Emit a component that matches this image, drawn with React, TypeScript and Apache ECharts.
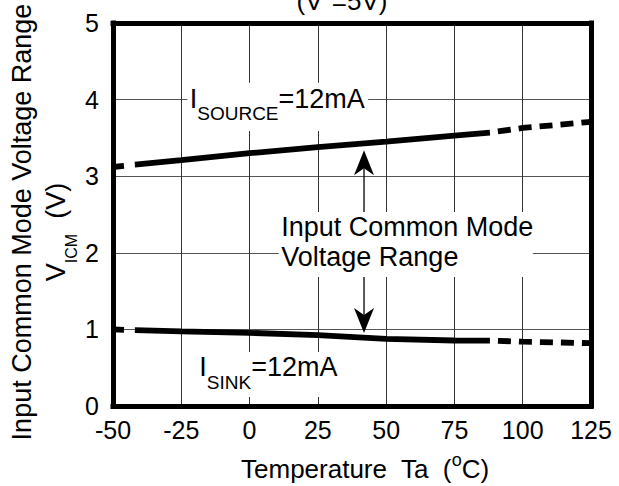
import React, { useEffect, useRef } from "react";
import * as echarts from "echarts";

// ---- data ----
const xTicks = [-50, -25, 0, 25, 50, 75, 100, 125];
const yTicks = [0, 1, 2, 3, 4, 5];

const sourceLeadT = [-50, -42];
const sourceLeadV = [3.12, 3.15];
const sourceT = [-42, -25, 0, 25, 50, 75, 88];
const sourceV = [3.15, 3.21, 3.3, 3.38, 3.45, 3.53, 3.57];
const sourceExtT = [88, 100, 125];
const sourceExtV = [3.57, 3.63, 3.71];

const sinkLeadT = [-50, -42];
const sinkLeadV = [1.0, 0.99];
const sinkT = [-42, -25, 0, 25, 50, 75, 88];
const sinkV = [0.99, 0.975, 0.955, 0.925, 0.875, 0.855, 0.853];
const sinkExtT = [88, 100, 125];
const sinkExtV = [0.853, 0.84, 0.82];

// ---- annotation anchors (data units) ----
const sourceBox = { t0: -22.8, t1: 43.4, v0: 3.59, v1: 4.22 };
const sourceLabelAt = [-21.9, 4.189];
const icmBox = { t0: 10.7, t1: 103.7, v0: 1.684, v1: 2.533 };
const icmLabelAt = [11.6, 2.533];
const sinkBox = { t0: -19.9, t1: 33.5, v0: 0.117, v1: 0.705 };
const sinkLabelAt = [-18.4, 0.681];
const arrowT = 41.9;
const upArrow = { from: 2.533, tip: 3.34 };
const downArrow = { from: 1.684, tip: 0.953 };

const FONT = '"Liberation Sans", Arial, Helvetica, sans-serif';

const pairs = (t: number[], v: number[]) => t.map((x, i) => [x, v[i]]);

export default function App() {
  const ref = useRef<HTMLDivElement>(null);
  useEffect(() => {
    if (!ref.current) return;
    const chart = echarts.init(ref.current, undefined, { renderer: "svg" });
    const axisLine = { show: true, onZero: false, lineStyle: { color: "#000", width: 5, cap: "square" } };
    const lineBase = { type: "line", showSymbol: false, symbol: "none", silent: true, z: 5 };
    const solid = { color: "#000", width: 5.8 };
    const option: any = {
      animation: false,
      backgroundColor: "#fff",
      grid: { left: 113, right: 28, top: 23, bottom: 80 },
      xAxis: [
        {
          type: "value", min: xTicks[0], max: xTicks[xTicks.length - 1], interval: 25, position: "bottom",
          axisLine, axisTick: { show: false },
          axisLabel: { fontSize: 25, color: "#000", margin: 11, fontFamily: FONT },
          splitLine: { show: true, lineStyle: { color: "#333", width: 1 } },
        },
        {
          type: "value", min: xTicks[0], max: xTicks[xTicks.length - 1], interval: 25, position: "top",
          axisLine, axisTick: { show: false }, axisLabel: { show: false }, splitLine: { show: false },
        },
      ],
      yAxis: [
        {
          type: "value", min: yTicks[0], max: yTicks[yTicks.length - 1], interval: 1, position: "left",
          axisLine, axisTick: { show: false },
          axisLabel: { fontSize: 25, color: "#000", margin: 14, fontFamily: FONT },
          splitLine: { show: true, lineStyle: { color: "#555", width: 1 } },
        },
        {
          type: "value", min: yTicks[0], max: yTicks[yTicks.length - 1], interval: 1, position: "right",
          axisLine, axisTick: { show: false }, axisLabel: { show: false }, splitLine: { show: false },
        },
      ],
      series: [
        { ...lineBase, name: "source lead", data: pairs(sourceLeadT, sourceLeadV), lineStyle: { ...solid, type: [11, 12] } },
        { ...lineBase, name: "source", data: pairs(sourceT, sourceV), lineStyle: solid },
        { ...lineBase, name: "source ext", data: pairs(sourceExtT, sourceExtV), lineStyle: { ...solid, type: [13, 8], dashOffset: 13 } },
        { ...lineBase, name: "sink lead", data: pairs(sinkLeadT, sinkLeadV), lineStyle: { ...solid, type: [11, 12] } },
        { ...lineBase, name: "sink", data: pairs(sinkT, sinkV), lineStyle: solid },
        { ...lineBase, name: "sink ext", data: pairs(sinkExtT, sinkExtV), lineStyle: { ...solid, type: [13, 8], dashOffset: 13 } },
      ],
    };
    chart.setOption(option);

    const px = (t: number, v: number) => chart.convertToPixel({ xAxisIndex: 0, yAxisIndex: 0 }, [t, v]) as number[];
    const boxRect = (b: { t0: number; t1: number; v0: number; v1: number }) => {
      const a = px(b.t0, b.v1);
      const c = px(b.t1, b.v0);
      return { type: "rect", z: 100, shape: { x: a[0], y: a[1], width: c[0] - a[0], height: c[1] - a[1] }, style: { fill: "#fff" } };
    };
    const subRich = {
      m: { fontSize: 27, lineHeight: 30, verticalAlign: "top", fontFamily: FONT, fill: "#000" },
      s: { fontSize: 19, lineHeight: 30, padding: [19, 0, 0, 0], verticalAlign: "top", fontFamily: FONT, fill: "#000" },
    };
    const sLab = px(sourceLabelAt[0], sourceLabelAt[1]);
    const kLab = px(sinkLabelAt[0], sinkLabelAt[1]);
    const iLab = px(icmLabelAt[0], icmLabelAt[1]);
    const upFrom = px(arrowT, upArrow.from);
    const upTip = px(arrowT, upArrow.tip);
    const dnFrom = px(arrowT, downArrow.from);
    const dnTip = px(arrowT, downArrow.tip);
    const headW = 10, headL = 25, notch = 18;

    const graphic: any[] = [
      boxRect(sourceBox),
      boxRect(icmBox),
      boxRect(sinkBox),
      {
        type: "text", z: 110, x: sLab[0], y: sLab[1],
        style: { text: "{m|I}{s|SOURCE}{m|=12mA}", rich: subRich, align: "left", verticalAlign: "top", font: `27px ${FONT}` },
      },
      {
        type: "text", z: 110, x: kLab[0], y: kLab[1],
        style: { text: "{m|I}{s|SINK}{m|=12mA}", rich: subRich, align: "left", verticalAlign: "top", font: `27px ${FONT}` },
      },
      {
        type: "text", z: 110, x: iLab[0], y: iLab[1],
        style: { text: "Input Common Mode\nVoltage Range", fontSize: 27, lineHeight: 30, fontFamily: FONT, fill: "#000", align: "left", verticalAlign: "top" },
      },
      { type: "line", z: 110, shape: { x1: upFrom[0], y1: upFrom[1], x2: upTip[0], y2: upTip[1] + notch }, style: { stroke: "#000", lineWidth: 1.3 } },
      {
        type: "polygon", z: 110,
        shape: { points: [[upTip[0], upTip[1]], [upTip[0] + headW, upTip[1] + headL], [upTip[0], upTip[1] + notch], [upTip[0] - headW, upTip[1] + headL]] },
        style: { fill: "#000" },
      },
      { type: "line", z: 110, shape: { x1: dnFrom[0], y1: dnFrom[1], x2: dnTip[0], y2: dnTip[1] - notch }, style: { stroke: "#000", lineWidth: 1.3 } },
      {
        type: "polygon", z: 110,
        shape: { points: [[dnTip[0], dnTip[1]], [dnTip[0] + headW, dnTip[1] - headL], [dnTip[0], dnTip[1] - notch], [dnTip[0] - headW, dnTip[1] - headL]] },
        style: { fill: "#000" },
      },
      // title (cut off at the top of the picture, as in the reference)
      {
        type: "text", z: 110, x: 342, y: -1,
        style: {
          text: "{m|(V}{p|+}{m|=5V)}", align: "center", verticalAlign: "middle",
          rich: {
            m: { fontSize: 26, lineHeight: 30, verticalAlign: "bottom", fontFamily: FONT, fill: "#000" },
            p: { fontSize: 16, lineHeight: 16, verticalAlign: "top", fontFamily: FONT, fill: "#000" },
          },
        },
      },
      // x-axis title
      {
        type: "text", z: 110, x: 365, y: 466,
        style: {
          text: "{m|Temperature  Ta  (}{p|o}{m|C)}", align: "center", verticalAlign: "middle",
          rich: {
            m: { fontSize: 26, lineHeight: 31, verticalAlign: "bottom", fontFamily: FONT, fill: "#000" },
            p: { fontSize: 18, lineHeight: 18, verticalAlign: "top", fontFamily: FONT, fill: "#000" },
          },
        },
      },
      // y-axis title
      {
        type: "text", z: 110, x: 22, y: 222, rotation: Math.PI / 2,
        style: { text: "Input Common Mode Voltage Range", fontSize: 27, fontFamily: FONT, fill: "#000", align: "center", verticalAlign: "middle" },
      },
      {
        type: "text", z: 110, x: 57, y: 232, rotation: Math.PI / 2,
        style: {
          text: "{m|V}{s|ICM}{m|  (V)}", align: "center", verticalAlign: "middle",
          rich: {
            m: { fontSize: 27, lineHeight: 30, verticalAlign: "top", fontFamily: FONT, fill: "#000" },
            s: { fontSize: 16, lineHeight: 30, padding: [21, 0, 0, 0], verticalAlign: "top", fontFamily: FONT, fill: "#000" },
          },
        },
      },
    ];
    chart.setOption({ graphic });

    return () => chart.dispose();
  }, []);
  return <div ref={ref} style={{ position: "fixed", left: 0, top: 0, width: 619, height: 486, background: "#fff" }} />;
}
